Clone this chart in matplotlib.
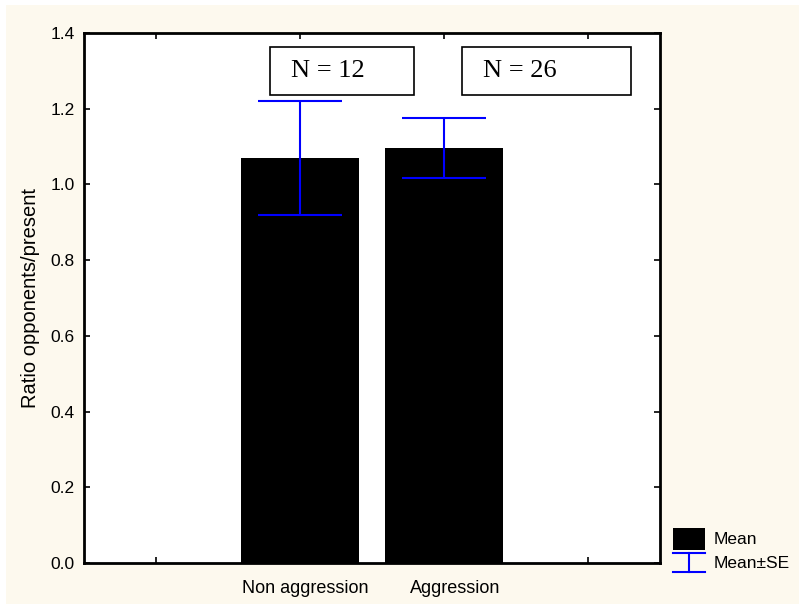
import matplotlib.pyplot as plt
from matplotlib.patches import Rectangle
from matplotlib.lines import Line2D

groups = ['Non aggression', 'Aggression']
means = [1.07, 1.096]
se = [0.151, 0.079]
counts = [12, 26]

plt.rcParams['font.family'] = ['Liberation Sans', 'DejaVu Sans']

W, H = 799, 604
fig = plt.figure(figsize=(W / 100, H / 100), dpi=100, facecolor='white')
# cream backdrop, leaving the thin white strip on top and left
fig.add_artist(Rectangle((6 / W, 0), 1, 1 - 5 / H, transform=fig.transFigure,
                         facecolor='#fdf9ee', edgecolor='none', zorder=-10))

ax = fig.add_axes([84 / W, 1 - 563 / H, 576 / W, 530 / H])
ax.set_facecolor('white')

x = [1, 2]
ax.bar(x, means, width=0.82, color='black', zorder=2)
ax.errorbar(x, means, yerr=se, fmt='none', ecolor='#0000ff', elinewidth=1.5,
            capsize=30, capthick=1.5, zorder=3)

# "N = ..." boxes above the bars
box_x = [(0.79, 1.0), (2.125, 1.175)]
txt_x = [0.94, 2.27]
for (bx, bw), tx, n in zip(box_x, txt_x, counts):
    ax.add_patch(Rectangle((bx, 1.236), bw, 0.127, facecolor='white',
                           edgecolor='black', linewidth=1.2, zorder=4))
    ax.text(tx, 1.2995, f'N = {n}', family='Liberation Serif', fontsize=19,
            va='center', ha='left', zorder=5)

ax.set_xlim(-0.5, 3.5)
ax.set_ylim(0, 1.4)
ax.set_xticks([0, 1, 2, 3])
ax.set_xticklabels([])
# category labels sit a little right of the bar centres in the original
ax.set_xticks([x[0] + 0.035, x[1] + 0.076], minor=True)
ax.set_xticklabels(groups, minor=True, fontsize=13)
ax.tick_params(axis='x', which='minor', length=0, pad=12)
ax.set_yticks([0, 0.2, 0.4, 0.6, 0.8, 1.0, 1.2, 1.4])
ax.set_yticklabels([f'{v:.1f}' for v in ax.get_yticks()], fontsize=12.5)
ax.tick_params(which='major', direction='in', length=4, width=1.2, top=True,
               right=True, pad=6.5)
for s in ax.spines.values():
    s.set_linewidth(2)
ax.set_ylabel('Ratio opponents/present', fontsize=14.5)
ax.yaxis.set_label_coords(-0.077, 0.5)

# legend drawn by hand at the lower right
fig.add_artist(Rectangle((673 / W, 1 - 550 / H), 32 / W, 22 / H,
                         transform=fig.transFigure, facecolor='black',
                         edgecolor='none'))
for yy in (553, 572):
    fig.add_artist(Line2D([673 / W, 705 / W], [1 - yy / H] * 2,
                          transform=fig.transFigure, color='#0000ff', lw=1.5))
fig.add_artist(Line2D([689 / W] * 2, [1 - 553 / H, 1 - 572 / H],
                      transform=fig.transFigure, color='#0000ff', lw=1.5))
fig.text(714 / W, 1 - 540 / H, 'Mean', fontsize=12.5, va='center')
fig.text(714 / W, 1 - 563 / H, 'Mean\u00b1SE', fontsize=12.5, va='center')

fig.savefig('out.png', dpi=100, facecolor=fig.get_facecolor())
